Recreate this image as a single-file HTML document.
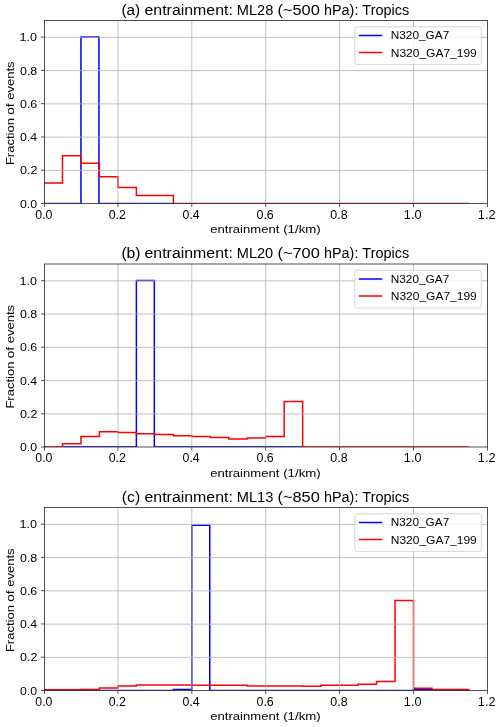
<!DOCTYPE html>
<html><head><meta charset="utf-8"><style>
html,body{margin:0;padding:0;background:#fff;}
svg{display:block;will-change:transform;}
text{font-family:"Liberation Sans", sans-serif;fill:#000;}
</style></head><body>
<svg width="500" height="727" viewBox="0 0 500 727">
<rect x="0" y="0" width="500" height="727" fill="#fff"/>
<g>
<clipPath id="c0"><rect x="44.75" y="20.5" width="442.75" height="183.0"/></clipPath>
<g clip-path="url(#c0)">
<path d="M44.00,203.40 L62.48,203.40 L80.95,203.40 L80.95,37.04 L98.92,37.04 L98.92,203.40 L117.90,203.40 L136.38,203.40 L154.85,203.40 L173.32,203.40" fill="none" stroke="#0000ff" stroke-width="1.5"/>
<path d="M44.00,203.40 L44.00,182.90 L62.48,182.90 L62.48,155.85 L80.95,155.85 L80.95,163.34 L99.42,163.34 L99.42,176.70 L117.90,176.70 L117.90,187.50 L136.38,187.50 L136.38,195.60 L154.85,195.60 L173.32,195.60 L173.32,203.40 L191.80,203.40 L210.28,203.40 L228.75,203.40 L247.23,203.40 L265.70,203.40 L284.18,203.40 L302.65,203.40 L321.12,203.40 L339.60,203.40 L358.07,203.40 L376.55,203.40 L395.02,203.40 L413.50,203.40 L431.98,203.40 L450.45,203.40 L468.92,203.40" fill="none" stroke="#ff0000" stroke-width="1.5"/>
</g>
<line x1="117.90" y1="20.5" x2="117.90" y2="203.5" stroke="#b0b0b0" stroke-width="0.8"/>
<line x1="191.80" y1="20.5" x2="191.80" y2="203.5" stroke="#b0b0b0" stroke-width="0.8"/>
<line x1="265.70" y1="20.5" x2="265.70" y2="203.5" stroke="#b0b0b0" stroke-width="0.8"/>
<line x1="339.60" y1="20.5" x2="339.60" y2="203.5" stroke="#b0b0b0" stroke-width="0.8"/>
<line x1="413.50" y1="20.5" x2="413.50" y2="203.5" stroke="#b0b0b0" stroke-width="0.8"/>
<line x1="44.5" y1="170.43" x2="487.5" y2="170.43" stroke="#b0b0b0" stroke-width="0.8"/>
<line x1="44.5" y1="137.15" x2="487.5" y2="137.15" stroke="#b0b0b0" stroke-width="0.8"/>
<line x1="44.5" y1="103.88" x2="487.5" y2="103.88" stroke="#b0b0b0" stroke-width="0.8"/>
<line x1="44.5" y1="70.61" x2="487.5" y2="70.61" stroke="#b0b0b0" stroke-width="0.8"/>
<line x1="44.5" y1="37.34" x2="487.5" y2="37.34" stroke="#b0b0b0" stroke-width="0.8"/>
<rect x="354.8" y="26.80" width="126.60" height="37.80" rx="2.5" ry="2.5" fill="#fff" fill-opacity="0.8" stroke="#cccccc" stroke-width="0.8"/>
<line x1="358.8" y1="35.50" x2="382.2" y2="35.50" stroke="#0000ff" stroke-width="1.5"/>
<line x1="358.8" y1="52.50" x2="382.2" y2="52.50" stroke="#ff0000" stroke-width="1.5"/>
<text x="390.78" y="39.40" font-size="11.6" textLength="58.46" lengthAdjust="spacingAndGlyphs">N320_GA7</text>
<text x="390.77" y="56.90" font-size="11.6" textLength="85.98" lengthAdjust="spacingAndGlyphs">N320_GA7_199</text>
<rect x="44.5" y="20.5" width="443.0" height="183.0" fill="none" stroke="#262626" stroke-width="0.8"/>
<line x1="44.50" y1="203.5" x2="44.50" y2="207.0" stroke="#262626" stroke-width="0.8"/>
<text x="35.29" y="218.70" font-size="12.0" textLength="17.16" lengthAdjust="spacingAndGlyphs">0.0</text>
<line x1="117.90" y1="203.5" x2="117.90" y2="207.0" stroke="#262626" stroke-width="0.8"/>
<text x="108.68" y="218.70" font-size="12.0" textLength="17.30" lengthAdjust="spacingAndGlyphs">0.2</text>
<line x1="191.80" y1="203.5" x2="191.80" y2="207.0" stroke="#262626" stroke-width="0.8"/>
<text x="182.59" y="218.70" font-size="12.0" textLength="17.03" lengthAdjust="spacingAndGlyphs">0.4</text>
<line x1="265.70" y1="203.5" x2="265.70" y2="207.0" stroke="#262626" stroke-width="0.8"/>
<text x="256.48" y="218.70" font-size="12.0" textLength="17.30" lengthAdjust="spacingAndGlyphs">0.6</text>
<line x1="339.60" y1="203.5" x2="339.60" y2="207.0" stroke="#262626" stroke-width="0.8"/>
<text x="330.38" y="218.70" font-size="12.0" textLength="17.30" lengthAdjust="spacingAndGlyphs">0.8</text>
<line x1="413.50" y1="203.5" x2="413.50" y2="207.0" stroke="#262626" stroke-width="0.8"/>
<text x="403.88" y="218.70" font-size="12.0" textLength="17.58" lengthAdjust="spacingAndGlyphs">1.0</text>
<line x1="487.50" y1="203.5" x2="487.50" y2="207.0" stroke="#262626" stroke-width="0.8"/>
<text x="477.87" y="218.70" font-size="12.0" textLength="17.73" lengthAdjust="spacingAndGlyphs">1.2</text>
<line x1="41.0" y1="203.50" x2="44.5" y2="203.50" stroke="#262626" stroke-width="0.8"/>
<text x="19.98" y="207.60" font-size="11.8" textLength="17.15" lengthAdjust="spacingAndGlyphs">0.0</text>
<line x1="41.0" y1="170.23" x2="44.5" y2="170.23" stroke="#262626" stroke-width="0.8"/>
<text x="19.97" y="174.33" font-size="11.8" textLength="17.43" lengthAdjust="spacingAndGlyphs">0.2</text>
<line x1="41.0" y1="136.95" x2="44.5" y2="136.95" stroke="#262626" stroke-width="0.8"/>
<text x="19.98" y="141.05" font-size="11.8" textLength="17.15" lengthAdjust="spacingAndGlyphs">0.4</text>
<line x1="41.0" y1="103.68" x2="44.5" y2="103.68" stroke="#262626" stroke-width="0.8"/>
<text x="19.97" y="107.78" font-size="11.8" textLength="17.29" lengthAdjust="spacingAndGlyphs">0.6</text>
<line x1="41.0" y1="70.41" x2="44.5" y2="70.41" stroke="#262626" stroke-width="0.8"/>
<text x="19.97" y="74.51" font-size="11.8" textLength="17.29" lengthAdjust="spacingAndGlyphs">0.8</text>
<line x1="41.0" y1="37.14" x2="44.5" y2="37.14" stroke="#262626" stroke-width="0.8"/>
<text x="19.56" y="41.24" font-size="11.8" textLength="17.57" lengthAdjust="spacingAndGlyphs">1.0</text>
<text x="210.25" y="233.40" font-size="11.8" textLength="69.11" lengthAdjust="spacingAndGlyphs">entrainment</text>
<text x="283.16" y="233.40" font-size="11.8" textLength="37.60" lengthAdjust="spacingAndGlyphs">(1/km)</text>
<text x="-1.11" y="0" font-size="11.8" textLength="47.14" lengthAdjust="spacingAndGlyphs" transform="translate(13.9,164.00) rotate(-90)">Fraction</text>
<text x="-0.58" y="0" font-size="11.8" textLength="11.34" lengthAdjust="spacingAndGlyphs" transform="translate(13.9,114.20) rotate(-90)">of</text>
<text x="-0.55" y="0" font-size="11.8" textLength="38.42" lengthAdjust="spacingAndGlyphs" transform="translate(13.9,99.30) rotate(-90)">events</text>
<text x="121.43" y="14.80" font-size="13.8" textLength="18.74" lengthAdjust="spacingAndGlyphs">(a)</text>
<text x="144.48" y="14.80" font-size="13.8" textLength="88.45" lengthAdjust="spacingAndGlyphs">entrainment:</text>
<text x="236.81" y="14.80" font-size="13.8" textLength="36.57" lengthAdjust="spacingAndGlyphs">ML28</text>
<text x="277.46" y="14.80" font-size="13.8" textLength="42.29" lengthAdjust="spacingAndGlyphs">(~500</text>
<text x="324.06" y="14.80" font-size="13.8" textLength="34.33" lengthAdjust="spacingAndGlyphs">hPa):</text>
<text x="362.34" y="14.80" font-size="13.8" textLength="46.90" lengthAdjust="spacingAndGlyphs">Tropics</text>
</g>
<g>
<clipPath id="c1"><rect x="44.75" y="264.0" width="442.75" height="183.0"/></clipPath>
<g clip-path="url(#c1)">
<path d="M62.48,446.90 L80.95,446.90 L99.42,446.90 L117.90,446.90 L136.38,446.90 L136.38,280.54 L154.35,280.54 L154.35,446.90 L173.32,446.90 L191.80,446.90 L210.28,446.90 L228.75,446.90 L247.23,446.90 L265.70,446.90 L284.18,446.90 L302.65,446.90" fill="none" stroke="#0000ff" stroke-width="1.5"/>
<path d="M44.00,446.90 L62.48,446.90 L62.48,443.71 L80.95,443.71 L80.95,436.50 L99.42,436.50 L99.42,431.79 L117.90,431.79 L117.90,432.39 L136.38,432.39 L136.38,433.79 L154.85,433.79 L154.85,434.41 L173.32,434.41 L173.32,435.70 L191.80,435.70 L191.80,436.60 L210.28,436.60 L210.28,437.60 L228.75,437.60 L228.75,439.00 L247.23,439.00 L247.23,438.10 L265.70,438.10 L265.70,436.40 L284.18,436.40 L284.18,401.52 L302.65,401.52 L302.65,446.90 L321.12,446.90 L339.60,446.90 L358.07,446.90 L376.55,446.90 L395.02,446.90 L413.50,446.90 L431.98,446.90 L450.45,446.90 L468.92,446.90" fill="none" stroke="#ff0000" stroke-width="1.5"/>
</g>
<line x1="117.90" y1="264.0" x2="117.90" y2="447.0" stroke="#b0b0b0" stroke-width="0.8"/>
<line x1="191.80" y1="264.0" x2="191.80" y2="447.0" stroke="#b0b0b0" stroke-width="0.8"/>
<line x1="265.70" y1="264.0" x2="265.70" y2="447.0" stroke="#b0b0b0" stroke-width="0.8"/>
<line x1="339.60" y1="264.0" x2="339.60" y2="447.0" stroke="#b0b0b0" stroke-width="0.8"/>
<line x1="413.50" y1="264.0" x2="413.50" y2="447.0" stroke="#b0b0b0" stroke-width="0.8"/>
<line x1="44.5" y1="413.93" x2="487.5" y2="413.93" stroke="#b0b0b0" stroke-width="0.8"/>
<line x1="44.5" y1="380.65" x2="487.5" y2="380.65" stroke="#b0b0b0" stroke-width="0.8"/>
<line x1="44.5" y1="347.38" x2="487.5" y2="347.38" stroke="#b0b0b0" stroke-width="0.8"/>
<line x1="44.5" y1="314.11" x2="487.5" y2="314.11" stroke="#b0b0b0" stroke-width="0.8"/>
<line x1="44.5" y1="280.84" x2="487.5" y2="280.84" stroke="#b0b0b0" stroke-width="0.8"/>
<rect x="354.8" y="270.30" width="126.60" height="37.80" rx="2.5" ry="2.5" fill="#fff" fill-opacity="0.8" stroke="#cccccc" stroke-width="0.8"/>
<line x1="358.8" y1="279.00" x2="382.2" y2="279.00" stroke="#0000ff" stroke-width="1.5"/>
<line x1="358.8" y1="296.00" x2="382.2" y2="296.00" stroke="#ff0000" stroke-width="1.5"/>
<text x="390.78" y="282.90" font-size="11.6" textLength="58.46" lengthAdjust="spacingAndGlyphs">N320_GA7</text>
<text x="390.77" y="300.40" font-size="11.6" textLength="85.98" lengthAdjust="spacingAndGlyphs">N320_GA7_199</text>
<rect x="44.5" y="264.0" width="443.0" height="183.0" fill="none" stroke="#262626" stroke-width="0.8"/>
<line x1="44.50" y1="447.0" x2="44.50" y2="450.5" stroke="#262626" stroke-width="0.8"/>
<text x="35.29" y="462.20" font-size="12.0" textLength="17.16" lengthAdjust="spacingAndGlyphs">0.0</text>
<line x1="117.90" y1="447.0" x2="117.90" y2="450.5" stroke="#262626" stroke-width="0.8"/>
<text x="108.68" y="462.20" font-size="12.0" textLength="17.30" lengthAdjust="spacingAndGlyphs">0.2</text>
<line x1="191.80" y1="447.0" x2="191.80" y2="450.5" stroke="#262626" stroke-width="0.8"/>
<text x="182.59" y="462.20" font-size="12.0" textLength="17.03" lengthAdjust="spacingAndGlyphs">0.4</text>
<line x1="265.70" y1="447.0" x2="265.70" y2="450.5" stroke="#262626" stroke-width="0.8"/>
<text x="256.48" y="462.20" font-size="12.0" textLength="17.30" lengthAdjust="spacingAndGlyphs">0.6</text>
<line x1="339.60" y1="447.0" x2="339.60" y2="450.5" stroke="#262626" stroke-width="0.8"/>
<text x="330.38" y="462.20" font-size="12.0" textLength="17.30" lengthAdjust="spacingAndGlyphs">0.8</text>
<line x1="413.50" y1="447.0" x2="413.50" y2="450.5" stroke="#262626" stroke-width="0.8"/>
<text x="403.88" y="462.20" font-size="12.0" textLength="17.58" lengthAdjust="spacingAndGlyphs">1.0</text>
<line x1="487.50" y1="447.0" x2="487.50" y2="450.5" stroke="#262626" stroke-width="0.8"/>
<text x="477.87" y="462.20" font-size="12.0" textLength="17.73" lengthAdjust="spacingAndGlyphs">1.2</text>
<line x1="41.0" y1="447.00" x2="44.5" y2="447.00" stroke="#262626" stroke-width="0.8"/>
<text x="19.98" y="451.10" font-size="11.8" textLength="17.15" lengthAdjust="spacingAndGlyphs">0.0</text>
<line x1="41.0" y1="413.73" x2="44.5" y2="413.73" stroke="#262626" stroke-width="0.8"/>
<text x="19.97" y="417.83" font-size="11.8" textLength="17.43" lengthAdjust="spacingAndGlyphs">0.2</text>
<line x1="41.0" y1="380.45" x2="44.5" y2="380.45" stroke="#262626" stroke-width="0.8"/>
<text x="19.98" y="384.55" font-size="11.8" textLength="17.15" lengthAdjust="spacingAndGlyphs">0.4</text>
<line x1="41.0" y1="347.18" x2="44.5" y2="347.18" stroke="#262626" stroke-width="0.8"/>
<text x="19.97" y="351.28" font-size="11.8" textLength="17.29" lengthAdjust="spacingAndGlyphs">0.6</text>
<line x1="41.0" y1="313.91" x2="44.5" y2="313.91" stroke="#262626" stroke-width="0.8"/>
<text x="19.97" y="318.01" font-size="11.8" textLength="17.29" lengthAdjust="spacingAndGlyphs">0.8</text>
<line x1="41.0" y1="280.64" x2="44.5" y2="280.64" stroke="#262626" stroke-width="0.8"/>
<text x="19.56" y="284.74" font-size="11.8" textLength="17.57" lengthAdjust="spacingAndGlyphs">1.0</text>
<text x="210.25" y="476.90" font-size="11.8" textLength="69.11" lengthAdjust="spacingAndGlyphs">entrainment</text>
<text x="283.16" y="476.90" font-size="11.8" textLength="37.60" lengthAdjust="spacingAndGlyphs">(1/km)</text>
<text x="-1.11" y="0" font-size="11.8" textLength="47.14" lengthAdjust="spacingAndGlyphs" transform="translate(13.9,407.50) rotate(-90)">Fraction</text>
<text x="-0.58" y="0" font-size="11.8" textLength="11.34" lengthAdjust="spacingAndGlyphs" transform="translate(13.9,357.70) rotate(-90)">of</text>
<text x="-0.55" y="0" font-size="11.8" textLength="38.42" lengthAdjust="spacingAndGlyphs" transform="translate(13.9,342.80) rotate(-90)">events</text>
<text x="121.40" y="258.30" font-size="13.8" textLength="19.19" lengthAdjust="spacingAndGlyphs">(b)</text>
<text x="144.48" y="258.30" font-size="13.8" textLength="88.45" lengthAdjust="spacingAndGlyphs">entrainment:</text>
<text x="236.81" y="258.30" font-size="13.8" textLength="36.43" lengthAdjust="spacingAndGlyphs">ML20</text>
<text x="277.46" y="258.30" font-size="13.8" textLength="42.29" lengthAdjust="spacingAndGlyphs">(~700</text>
<text x="324.06" y="258.30" font-size="13.8" textLength="34.33" lengthAdjust="spacingAndGlyphs">hPa):</text>
<text x="362.34" y="258.30" font-size="13.8" textLength="46.90" lengthAdjust="spacingAndGlyphs">Tropics</text>
</g>
<g>
<clipPath id="c2"><rect x="44.75" y="507.5" width="442.75" height="183.0"/></clipPath>
<g clip-path="url(#c2)">
<path d="M44.00,690.40 L62.48,690.40 L80.95,690.40 L99.42,690.40 L117.90,690.40 L136.38,690.40 L154.85,690.40 L173.32,690.40 L173.32,689.50 L191.80,689.50 L191.80,525.20 L209.78,525.20 L209.78,690.40 L228.75,690.40 L247.23,690.40 L265.70,690.40 L284.18,690.40 L302.65,690.40 L321.12,690.40 L339.60,690.40 L358.07,690.40 L376.55,690.40 L395.02,690.40 L413.50,690.40 L413.50,689.57 L431.98,689.57 L431.98,690.40 L450.45,690.40 L468.92,690.40" fill="none" stroke="#0000ff" stroke-width="1.5"/>
<path d="M44.00,690.40 L44.00,689.77 L62.48,689.77 L80.95,689.77 L80.95,689.44 L99.42,689.44 L99.42,688.00 L117.90,688.00 L117.90,686.01 L136.38,686.01 L136.38,684.94 L154.85,684.94 L173.32,684.94 L191.80,684.94 L191.80,685.19 L210.28,685.19 L228.75,685.19 L247.23,685.19 L247.23,686.01 L265.70,686.01 L284.18,686.01 L302.65,686.01 L302.65,686.27 L321.12,686.27 L321.12,685.19 L339.60,685.19 L358.07,685.19 L358.07,684.28 L376.55,684.28 L376.55,681.62 L395.02,681.62 L395.02,600.43 L413.50,600.43 L413.50,688.27 L431.98,688.27 L431.98,689.60 L450.45,689.60 L468.92,689.60 L468.92,690.40" fill="none" stroke="#ff0000" stroke-width="1.5"/>
</g>
<line x1="117.90" y1="507.5" x2="117.90" y2="690.5" stroke="#b0b0b0" stroke-width="0.8"/>
<line x1="191.80" y1="507.5" x2="191.80" y2="690.5" stroke="#b0b0b0" stroke-width="0.8"/>
<line x1="265.70" y1="507.5" x2="265.70" y2="690.5" stroke="#b0b0b0" stroke-width="0.8"/>
<line x1="339.60" y1="507.5" x2="339.60" y2="690.5" stroke="#b0b0b0" stroke-width="0.8"/>
<line x1="413.50" y1="507.5" x2="413.50" y2="690.5" stroke="#b0b0b0" stroke-width="0.8"/>
<line x1="44.5" y1="657.43" x2="487.5" y2="657.43" stroke="#b0b0b0" stroke-width="0.8"/>
<line x1="44.5" y1="624.15" x2="487.5" y2="624.15" stroke="#b0b0b0" stroke-width="0.8"/>
<line x1="44.5" y1="590.88" x2="487.5" y2="590.88" stroke="#b0b0b0" stroke-width="0.8"/>
<line x1="44.5" y1="557.61" x2="487.5" y2="557.61" stroke="#b0b0b0" stroke-width="0.8"/>
<line x1="44.5" y1="524.34" x2="487.5" y2="524.34" stroke="#b0b0b0" stroke-width="0.8"/>
<rect x="354.8" y="513.80" width="126.60" height="37.80" rx="2.5" ry="2.5" fill="#fff" fill-opacity="0.8" stroke="#cccccc" stroke-width="0.8"/>
<line x1="358.8" y1="522.50" x2="382.2" y2="522.50" stroke="#0000ff" stroke-width="1.5"/>
<line x1="358.8" y1="539.50" x2="382.2" y2="539.50" stroke="#ff0000" stroke-width="1.5"/>
<text x="390.78" y="526.40" font-size="11.6" textLength="58.46" lengthAdjust="spacingAndGlyphs">N320_GA7</text>
<text x="390.77" y="543.90" font-size="11.6" textLength="85.98" lengthAdjust="spacingAndGlyphs">N320_GA7_199</text>
<rect x="44.5" y="507.5" width="443.0" height="183.0" fill="none" stroke="#262626" stroke-width="0.8"/>
<line x1="44.50" y1="690.5" x2="44.50" y2="694.0" stroke="#262626" stroke-width="0.8"/>
<text x="35.29" y="705.70" font-size="12.0" textLength="17.16" lengthAdjust="spacingAndGlyphs">0.0</text>
<line x1="117.90" y1="690.5" x2="117.90" y2="694.0" stroke="#262626" stroke-width="0.8"/>
<text x="108.68" y="705.70" font-size="12.0" textLength="17.30" lengthAdjust="spacingAndGlyphs">0.2</text>
<line x1="191.80" y1="690.5" x2="191.80" y2="694.0" stroke="#262626" stroke-width="0.8"/>
<text x="182.59" y="705.70" font-size="12.0" textLength="17.03" lengthAdjust="spacingAndGlyphs">0.4</text>
<line x1="265.70" y1="690.5" x2="265.70" y2="694.0" stroke="#262626" stroke-width="0.8"/>
<text x="256.48" y="705.70" font-size="12.0" textLength="17.30" lengthAdjust="spacingAndGlyphs">0.6</text>
<line x1="339.60" y1="690.5" x2="339.60" y2="694.0" stroke="#262626" stroke-width="0.8"/>
<text x="330.38" y="705.70" font-size="12.0" textLength="17.30" lengthAdjust="spacingAndGlyphs">0.8</text>
<line x1="413.50" y1="690.5" x2="413.50" y2="694.0" stroke="#262626" stroke-width="0.8"/>
<text x="403.88" y="705.70" font-size="12.0" textLength="17.58" lengthAdjust="spacingAndGlyphs">1.0</text>
<line x1="487.50" y1="690.5" x2="487.50" y2="694.0" stroke="#262626" stroke-width="0.8"/>
<text x="477.87" y="705.70" font-size="12.0" textLength="17.73" lengthAdjust="spacingAndGlyphs">1.2</text>
<line x1="41.0" y1="690.50" x2="44.5" y2="690.50" stroke="#262626" stroke-width="0.8"/>
<text x="19.98" y="694.60" font-size="11.8" textLength="17.15" lengthAdjust="spacingAndGlyphs">0.0</text>
<line x1="41.0" y1="657.23" x2="44.5" y2="657.23" stroke="#262626" stroke-width="0.8"/>
<text x="19.97" y="661.33" font-size="11.8" textLength="17.43" lengthAdjust="spacingAndGlyphs">0.2</text>
<line x1="41.0" y1="623.95" x2="44.5" y2="623.95" stroke="#262626" stroke-width="0.8"/>
<text x="19.98" y="628.05" font-size="11.8" textLength="17.15" lengthAdjust="spacingAndGlyphs">0.4</text>
<line x1="41.0" y1="590.68" x2="44.5" y2="590.68" stroke="#262626" stroke-width="0.8"/>
<text x="19.97" y="594.78" font-size="11.8" textLength="17.29" lengthAdjust="spacingAndGlyphs">0.6</text>
<line x1="41.0" y1="557.41" x2="44.5" y2="557.41" stroke="#262626" stroke-width="0.8"/>
<text x="19.97" y="561.51" font-size="11.8" textLength="17.29" lengthAdjust="spacingAndGlyphs">0.8</text>
<line x1="41.0" y1="524.14" x2="44.5" y2="524.14" stroke="#262626" stroke-width="0.8"/>
<text x="19.56" y="528.24" font-size="11.8" textLength="17.57" lengthAdjust="spacingAndGlyphs">1.0</text>
<text x="210.25" y="720.40" font-size="11.8" textLength="69.11" lengthAdjust="spacingAndGlyphs">entrainment</text>
<text x="283.16" y="720.40" font-size="11.8" textLength="37.60" lengthAdjust="spacingAndGlyphs">(1/km)</text>
<text x="-1.11" y="0" font-size="11.8" textLength="47.14" lengthAdjust="spacingAndGlyphs" transform="translate(13.9,651.00) rotate(-90)">Fraction</text>
<text x="-0.58" y="0" font-size="11.8" textLength="11.34" lengthAdjust="spacingAndGlyphs" transform="translate(13.9,601.20) rotate(-90)">of</text>
<text x="-0.55" y="0" font-size="11.8" textLength="38.42" lengthAdjust="spacingAndGlyphs" transform="translate(13.9,586.30) rotate(-90)">events</text>
<text x="121.80" y="501.80" font-size="13.8" textLength="18.36" lengthAdjust="spacingAndGlyphs">(c)</text>
<text x="144.48" y="501.80" font-size="13.8" textLength="88.45" lengthAdjust="spacingAndGlyphs">entrainment:</text>
<text x="236.81" y="501.80" font-size="13.8" textLength="36.57" lengthAdjust="spacingAndGlyphs">ML13</text>
<text x="277.46" y="501.80" font-size="13.8" textLength="42.29" lengthAdjust="spacingAndGlyphs">(~850</text>
<text x="324.06" y="501.80" font-size="13.8" textLength="34.33" lengthAdjust="spacingAndGlyphs">hPa):</text>
<text x="362.34" y="501.80" font-size="13.8" textLength="46.90" lengthAdjust="spacingAndGlyphs">Tropics</text>
</g>
</svg>
</body></html>
